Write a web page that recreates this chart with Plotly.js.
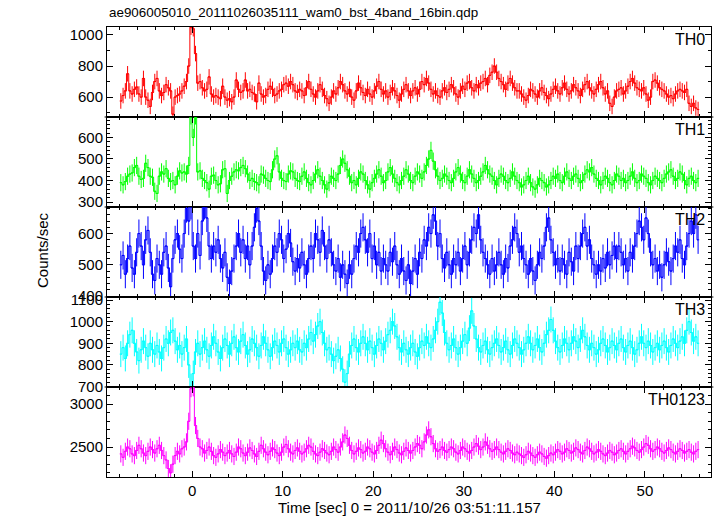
<!DOCTYPE html>
<html><head><meta charset="utf-8">
<script src="https://cdn.plot.ly/plotly-3.0.1.min.js"></script>
<style>html,body{margin:0;padding:0;background:#fff}#chart{width:717px;height:516px}</style>
</head><body><div id="chart"></div>
<script>
// time bins (s): start, width
const T_START = -8;
const BIN = 0.25;

const bandNames = ["TH0", "TH1", "TH2", "TH3", "TH0123"];
const bandColors = ["#ff0000", "#00ff00", "#0000ff", "#00ffff", "#ff00ff"];
// typical 1-sigma error (counts/sec)
const bandErrors = [50, 40, 45, 60, 100];

const TH0 = [575,610,640,750,640,620,650,665,620,600,720,600,580,540,630,700,
720,640,610,630,680,660,640,490,600,610,620,640,670,700,800,1050,
1040,880,690,700,660,640,650,730,620,600,610,600,590,670,600,580,
590,570,600,710,650,630,640,710,640,650,630,620,570,690,620,600,
610,650,670,650,610,620,640,650,680,690,670,700,680,640,630,650,
640,610,660,700,650,620,600,640,680,650,610,590,560,600,640,620,
660,700,680,640,620,650,600,580,640,690,660,630,610,650,620,600,
640,670,700,650,620,640,600,630,660,640,610,580,620,650,680,640,
610,640,660,620,650,700,680,720,690,650,620,640,610,600,640,660,
630,650,680,660,620,600,640,670,650,690,700,660,640,680,660,690,
700,720,680,740,760,800,760,720,700,680,650,690,720,690,660,640,
640,620,600,580,610,650,640,620,600,640,660,630,610,590,620,650,
670,640,620,660,690,650,620,640,680,660,640,610,650,680,700,660,
640,620,650,680,700,660,620,640,560,540,600,640,650,660,620,640,
670,700,720,690,660,650,640,660,620,580,600,700,710,690,660,650,
640,620,600,610,590,620,640,650,640,630,650,560,540,560,530,520];

const TH1 = [390,380,395,420,430,435,460,470,420,405,410,480,460,420,415,350,
340,420,440,430,455,410,395,400,380,420,445,435,440,430,470,700,
600,700,440,445,410,400,390,360,420,425,400,380,385,450,455,340,
400,420,440,450,445,460,470,455,430,400,410,395,390,380,430,425,
410,400,395,450,500,515,440,410,400,395,430,445,440,410,400,395,
420,440,410,390,380,400,430,450,420,400,380,360,390,420,410,400,
430,470,500,480,450,420,390,400,380,410,440,430,400,380,360,390,
410,430,450,420,390,400,440,460,430,410,390,380,400,420,450,430,
400,390,420,440,430,410,440,470,500,540,490,450,420,400,410,430,
420,400,390,410,440,460,430,400,390,420,450,430,410,390,400,420,
440,470,450,430,420,400,380,410,430,420,400,390,410,440,420,400,
390,370,380,400,420,390,370,360,380,410,400,390,370,380,400,420,
410,430,400,390,420,440,410,400,420,430,410,390,400,430,450,440,
460,430,410,400,380,400,420,410,390,380,400,430,420,400,410,390,
400,420,440,410,390,400,430,420,410,390,380,400,420,410,400,390,
410,430,440,450,420,400,410,440,430,400,380,410,420,400,390,410];

const TH2 = [500,530,470,520,560,490,470,
540,600,560,500,580,610,540,
470,450,520,500,470,540,560,
490,430,520,580,600,550,520,
600,680,640,690,
560,520,600,530,
640,690,650,560,
520,560,540,580,520,490,540,
460,440,480,520,560,600,
540,580,520,560,500,
560,620,680,640,
560,480,450,500,470,520,
560,540,600,580,520,550,600,570,
510,480,520,490,540,500,470,520,
560,520,600,580,540,610,560,520,
580,540,500,480,520,460,500,470,
440,500,470,520,560,540,600,620,
580,540,600,520,560,500,540,480,
520,500,480,540,510,560,500,470,
520,480,450,500,440,480,520,470,
540,520,580,560,620,600,660,640,
560,600,520,490,540,500,470,520,
500,540,480,520,560,500,540,580,
620,600,660,580,540,520,500,470,
520,480,500,540,500,470,520,490,
560,580,620,600,540,560,520,500,
470,520,480,450,500,540,520,560,
620,650,580,540,500,520,480,520,
500,470,540,510,480,560,520,560,
600,620,560,580,520,500,470,500,
480,520,490,540,500,530,560,520,
560,540,500,520,480,540,520,560,
600,640,620,580,650,600,540,500,
520,480,500,460,500,540,510,480,
520,560,540,580,520,500,560,600,
640,600,660,580];

const TH3 = [850,880,830,900,940,960,900,860,820,870,910,880,840,900,870,850,
890,860,830,880,920,900,950,960,910,870,890,850,880,920,800,700,
760,860,900,850,880,910,870,840,890,930,900,860,830,880,920,890,
850,900,930,880,860,910,940,890,850,870,920,900,880,840,890,930,
900,870,840,880,910,890,860,900,920,880,850,870,900,880,910,870,
860,900,880,920,950,910,940,980,1000,950,900,870,880,850,820,840,
870,830,780,720,760,850,890,920,880,860,900,930,900,870,910,880,
850,890,920,900,870,910,940,960,1000,980,930,880,860,900,870,850,
880,900,860,840,880,910,890,930,900,880,920,960,1000,1090,1040,950,
900,870,890,920,880,850,880,910,940,900,970,1050,980,920,880,860,
890,910,870,850,880,900,920,890,860,880,910,870,850,890,920,900,
880,850,870,900,930,900,870,890,920,880,860,900,940,960,1010,960,
910,880,860,890,920,900,870,900,930,910,880,920,960,930,890,870,
900,880,850,870,900,920,890,860,880,910,890,870,900,920,880,860,
890,910,880,850,870,900,930,900,880,910,890,860,880,900,870,890,
910,880,860,890,920,900,880,910,930,900,960,1000,950,910,930,900];

const TH0123 = [2420,2380,2450,2500,2480,2420,2400,2460,2520,2480,2430,2400,2450,2500,2470,2430,
2480,2520,2460,2400,2350,2250,2200,2300,2400,2450,2420,2480,2500,2560,2800,3180,
3190,2750,2600,2500,2480,2430,2460,2500,2450,2400,2380,2420,2470,2440,2400,2430,
2460,2420,2390,2440,2500,2480,2430,2400,2440,2490,2460,2420,2390,2450,2520,2480,
2440,2410,2450,2490,2470,2430,2400,2440,2500,2530,2480,2440,2420,2460,2490,2450,
2420,2440,2480,2520,2500,2450,2420,2400,2440,2480,2460,2430,2410,2450,2500,2470,
2440,2500,2560,2640,2600,2520,2460,2420,2450,2490,2470,2430,2450,2500,2480,2440,
2420,2460,2520,2580,2540,2480,2440,2410,2450,2500,2470,2430,2410,2450,2490,2460,
2430,2460,2500,2540,2520,2480,2560,2640,2700,2620,2540,2480,2450,2470,2500,2460,
2440,2470,2500,2480,2440,2420,2460,2500,2480,2450,2430,2460,2500,2540,2510,2470,
2500,2560,2520,2480,2450,2470,2500,2470,2440,2420,2450,2480,2460,2430,2410,2440,
2420,2400,2380,2410,2450,2430,2400,2380,2410,2440,2420,2390,2370,2400,2430,2410,
2440,2470,2450,2420,2440,2480,2460,2430,2450,2490,2470,2440,2420,2460,2500,2480,
2450,2420,2440,2470,2450,2420,2400,2430,2460,2440,2410,2430,2460,2480,2450,2420,
2450,2480,2510,2490,2460,2440,2470,2500,2540,2520,2480,2450,2470,2500,2480,2450,
2430,2460,2490,2470,2440,2420,2450,2480,2460,2430,2450,2470,2440,2420,2450,2470];

const series = [TH0, TH1, TH2, TH3, TH0123];
const yRanges = [[472, 1051], [277, 695], [397, 685], [698, 1114], [2151, 3199]];
const yDticks = [200, 100, 100, 100, 500];
const yMinor = [100, 20, 20, 20, 100];
const X_RANGE = [-9.4, 57.3];

const times = TH0.map((_, i) => T_START + BIN * (i + 0.5));

const traces = series.map((vals, k) => ({
  type: "scatter", mode: "lines",
  x: times, y: vals,
  xaxis: k === 0 ? "x" : "x" + (k + 1),
  yaxis: k === 0 ? "y" : "y" + (k + 1),
  line: {color: bandColors[k], width: 1, shape: "hvh"},
  error_y: {type: "constant", value: bandErrors[k], color: bandColors[k], thickness: 1, width: 0},
  error_x: {type: "constant", value: BIN / 2, color: bandColors[k], thickness: 1, width: 0},
  hoverinfo: "skip", showlegend: false, cliponaxis: true
}));

const FONT = "Liberation Sans, Arial, Helvetica, sans-serif";
const layout = {
  width: 717, height: 516,
  margin: {l: 107, r: 6, t: 27, b: 39},
  paper_bgcolor: "#fff", plot_bgcolor: "#fff",
  showlegend: false,
  font: {family: FONT, size: 15, color: "#000"},
  annotations: [], shapes: []
};
const N = 5;
for (let k = 0; k < N; k++) {
  const sx = k === 0 ? "" : String(k + 1);
  const top = 1 - k / N, bot = 1 - (k + 1) / N;
  layout["xaxis" + sx] = {
    domain: [0, 1], anchor: "y" + sx, range: X_RANGE,
    matches: k === 0 ? undefined : "x",
    showline: true, linecolor: "#000", linewidth: 1, mirror: "allticks",
    ticks: "inside", ticklen: 6, tickcolor: "#000", tickwidth: 1,
    dtick: 10, tick0: 0,
    minor: {ticks: "inside", dtick: 2, ticklen: 3, tickcolor: "#000"},
    showgrid: false, zeroline: false,
    showticklabels: k === N - 1,
    tickfont: {size: 15, family: FONT, color: "#000"}
  };
  layout["yaxis" + sx] = {
    domain: [bot, top], anchor: "x" + sx, range: yRanges[k],
    showline: true, linecolor: "#000", linewidth: 1, mirror: "allticks",
    ticks: "inside", ticklen: 6, tickcolor: "#000", tickwidth: 1,
    dtick: yDticks[k], tick0: 0,
    minor: {ticks: "inside", dtick: yMinor[k], ticklen: 3, tickcolor: "#000"},
    showgrid: false, zeroline: false,
    tickfont: {size: 15, family: FONT, color: "#000"}
  };
  layout.annotations.push({
    xref: "paper", yref: "paper", x: 0.993, y: top - 0.005,
    xanchor: "right", yanchor: "top", showarrow: false,
    text: bandNames[k], font: {size: 16, family: FONT, color: "#000"}
  });
  if (k > 0) {
    layout.shapes.push({type: "line", xref: "paper", yref: "paper",
      x0: -0.004, x1: 0.018, y0: top, y1: top, line: {color: "#000", width: 1}});
    layout.shapes.push({type: "line", xref: "paper", yref: "paper",
      x0: 0.985, x1: 1.004, y0: top, y1: top, line: {color: "#000", width: 1}});
  }
}
layout.annotations.push({
  xref: "paper", yref: "paper", x: 0, y: 1.012, xanchor: "left", yanchor: "bottom",
  showarrow: false, text: "ae906005010_20111026035111_wam0_bst_4band_16bin.qdp",
  font: {size: 13.4, family: FONT, color: "#000"}
});
layout.annotations.push({
  xref: "paper", yref: "paper", x: 0.5, y: -0.067, xanchor: "center", yanchor: "middle",
  showarrow: false, text: "Time [sec] 0 = 2011/10/26 03:51:11.157",
  font: {size: 15, family: FONT, color: "#000"}
});
layout.annotations.push({
  xref: "paper", yref: "paper", x: -0.108, y: 0.504, xanchor: "center", yanchor: "middle",
  showarrow: false, textangle: -90, text: "Counts/sec",
  font: {size: 15, family: FONT, color: "#000"}
});

Plotly.newPlot("chart", traces, layout, {staticPlot: true, displayModeBar: false});
</script></body></html>
